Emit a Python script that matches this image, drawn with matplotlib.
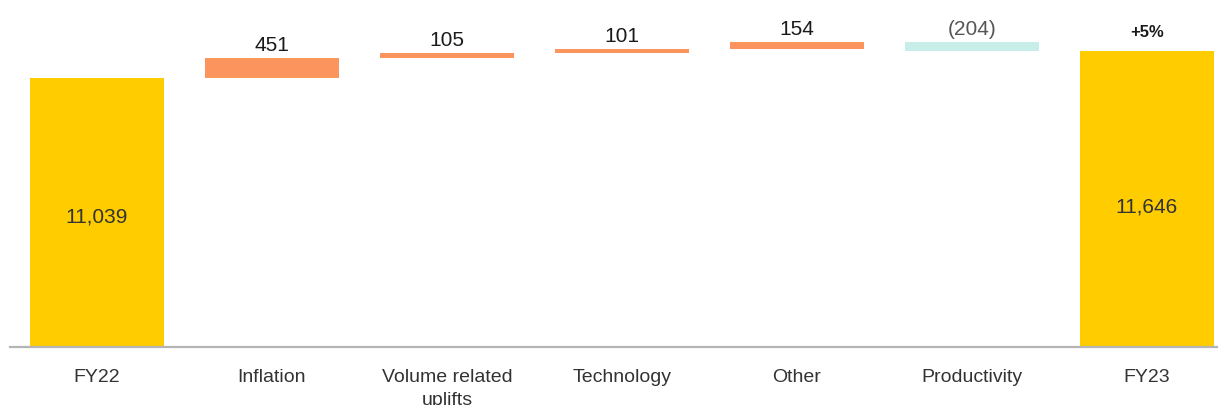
import numpy as np
import matplotlib
matplotlib.use("Agg")
import matplotlib.pyplot as plt

plt.rcParams['font.family'] = ['Liberation Sans', 'DejaVu Sans']

categories = ["FY22", "Inflation", "Volume related\nuplifts", "Technology", "Other", "Productivity", "FY23"]
start_value = 11039
deltas = [451, 105, 101, 154, -204]
end_value = 11646
growth_label = "+5%"

YELLOW = "#FFCC00"
ORANGE = "#FC945E"
TEAL = "#C8EEEA"

fig = plt.figure(figsize=(12.18, 4.06), dpi=100)
ax = fig.add_axes([10 / 1218, 58 / 406, 1 - 10 / 1218, 348 / 406])

x = np.arange(len(categories))
width = 0.77

# totals
ax.bar(x[0], start_value, width=width, color=YELLOW, bottom=0)
ax.bar(x[-1], end_value, width=width, color=YELLOW, bottom=0)

# steps
level = start_value
for i, d in enumerate(deltas):
    pos = x[i + 1]
    bottom = level if d >= 0 else level + d
    color = ORANGE if d >= 0 else TEAL
    ax.bar(pos, abs(d), width=width, bottom=bottom, color=color)
    top = max(level, level + d)
    if d >= 0:
        txt, tc = f"{d:,}", "#1a1a1a"
    else:
        txt, tc = f"({abs(d):,})", "#555555"
    ax.annotate(txt, (pos, top), xytext=(0, 3), textcoords="offset points",
                ha="center", va="bottom", fontsize=15, color=tc)
    level += d

ymin, ymax = 5014, 12815
ax.set_ylim(ymin, ymax)
ax.set_xlim(-0.497, 6.406)

# labels inside total bars
ax.text(x[0], (start_value + ymin) / 2 - 80, f"{start_value:,}", ha="center", va="center",
        fontsize=15, color="#333333")
ax.text(x[-1], (end_value + ymin) / 2 - 150, f"{end_value:,}", ha="center", va="center",
        fontsize=15, color="#333333")
ax.annotate(growth_label, (x[-1], end_value), xytext=(0, 9), textcoords="offset points",
            ha="center", va="bottom", fontsize=12, fontweight="bold", color="#1a1a1a")

ax.set_xticks(x)
ax.set_xticklabels(categories, fontsize=14, color="#333333", linespacing=1.45)
ax.tick_params(axis="x", length=0, pad=15)
ax.set_yticks([])
for s in ["top", "right", "left"]:
    ax.spines[s].set_visible(False)
ax.spines["bottom"].set_color("#b5b5b5")
ax.spines["bottom"].set_linewidth(1.6)

fig.savefig("out.png", dpi=100)
